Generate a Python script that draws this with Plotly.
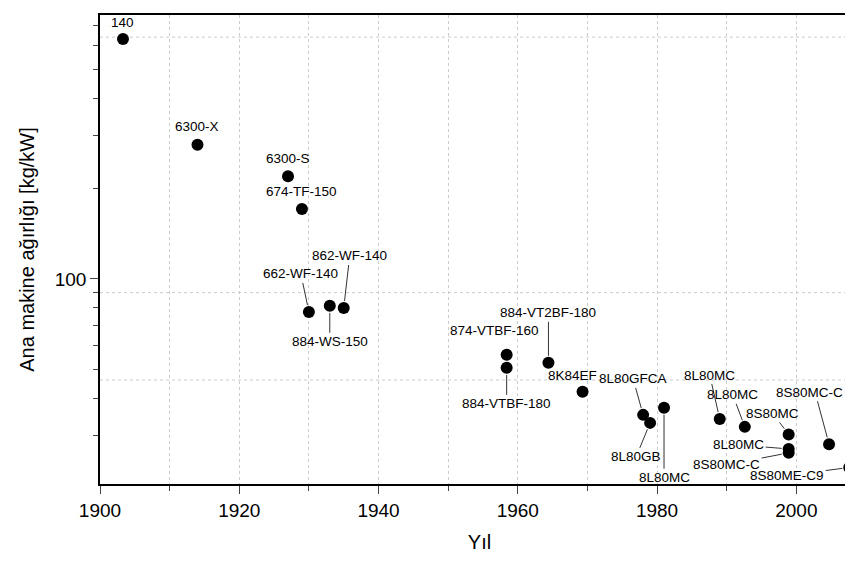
import math
import plotly.graph_objects as go

# veriler: yıl, ağırlık [kg/kW], etiket
years = [1903.3, 1914, 1927, 1929, 1930, 1933, 1935, 1958.4, 1958.4, 1964.4, 1969.3,
         1978, 1979, 1981, 1989, 1992.6, 1998.9, 1998.9, 1998.9, 2004.7, 2007.6]
weights = [631, 280, 220, 171, 77.6, 81.3, 80, 55.8, 50.5, 52.5, 42.0,
           35.2, 33.1, 37.2, 34.1, 32.1, 30.3, 27.1, 26.3, 28.1, 23.5]
labels = ["140", "6300-X", "6300-S", "674-TF-150", "662-WF-140", "884-WS-150", "862-WF-140",
          "874-VTBF-160", "884-VTBF-180", "884-VT2BF-180", "8K84EF",
          "8L80GFCA", "8L80GB", "8L80MC", "8L80MC", "8L80MC", "8S80MC", "8L80MC", "8S80MC-C",
          "8S80MC-C 9", "8S80ME-C9"]
# etiket kaydırmaları (piksel) ve çizgi olup olmadığı
offsets = [(0, -16, False), (0, -18, False), (0, -18, False), (0, -18, False), (-8, -38, True),
           (0, 36, True), (6, -52, True), (-12, -24, False), (0, 36, True), (0, -50, True), (-10, -16, False),
           (-10, -36, True), (-14, 34, True), (0, 70, True), (-10, -44, True), (-12, -32, True),
           (-16, -21, True), (-50, -4, True), (-62, 12, True), (-14, -52, True), (-62, 8, True)]

grid_y = [640, 90, 46]

fig = go.Figure(go.Scatter(x=years, y=weights, mode="markers",
                           marker=dict(color="black", size=12), cliponaxis=False))

for x, y, t, (ax, ay, line) in zip(years, weights, labels, offsets):
    fig.add_annotation(x=x, y=math.log10(y), text=t, ax=ax, ay=ay, showarrow=True,
                       arrowhead=0, arrowwidth=1, arrowcolor="#333" if line else "rgba(0,0,0,0)",
                       standoff=7, font=dict(size=13.5, color="black"))

for g in grid_y:
    fig.add_hline(y=g, line=dict(color="#ccc", width=1, dash="dot"), layer="below")

fig.update_layout(
    width=853, height=562, plot_bgcolor="white", paper_bgcolor="white",
    margin=dict(l=92, r=0, t=7, b=86), showlegend=False,
    font=dict(family="Liberation Sans, Arial", color="black"),
)
fig.update_xaxes(range=[1900, 2009], dtick=20, tick0=1900, ticks="outside", ticklen=8,
                 tickfont=dict(size=19), showline=True, linecolor="black", linewidth=1.5,
                 mirror=True, showgrid=True, gridcolor="#ccc", griddash="dot",
                 minor=dict(dtick=10, ticks="outside", ticklen=5, showgrid=True,
                            gridcolor="#ccc", griddash="dot"),
                 title=dict(text="Yıl", font=dict(size=20)), zeroline=False)
fig.update_yaxes(type="log", range=[1.316, 2.88], tickvals=[100], ticktext=["100"],
                 ticks="outside", ticklen=8, tickfont=dict(size=19), showline=True,
                 linecolor="black", linewidth=1.5, mirror=True, showgrid=False,
                 minor=dict(tickvals=[30, 40, 50, 60, 70, 80, 90, 200, 300, 400, 500, 600, 700],
                            ticks="outside", ticklen=5, showgrid=False),
                 title=dict(text="Ana makine ağırlığı [kg/kW]", font=dict(size=20)))

fig.write_html("out.html")
